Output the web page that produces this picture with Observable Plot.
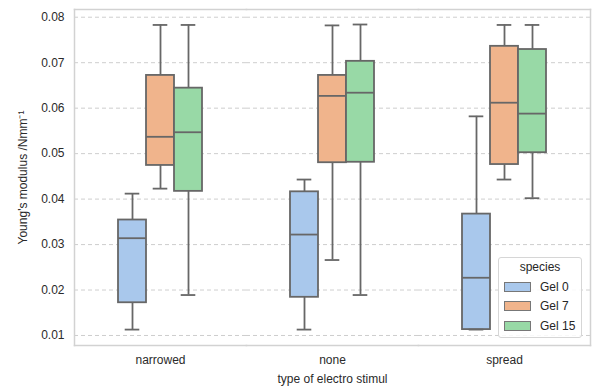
<!DOCTYPE html>
<html>
<head>
<meta charset="utf-8">
<script src="https://cdn.jsdelivr.net/npm/d3@7"></script>
<script src="https://cdn.jsdelivr.net/npm/@observablehq/plot@0.6"></script>
<style>
  html, body { margin: 0; padding: 0; background: #fff; }
  #wrap { position: relative; width: 594px; height: 387px; font-family: "Liberation Sans", Arial, sans-serif; }
  #legend { position: absolute; left: 498px; top: 257px; width: 84px; height: 81px; box-sizing: border-box;
    border: 1px solid #d6d6d6; border-radius: 3px; background: rgba(255,255,255,0.85);
    font-size: 12px; color: #262626; padding: 2px 0 0 4px; }
  #legend .title { text-align: center; margin: 0 0 3px 0; padding-right: 4px; }
  #legend .row { display: flex; align-items: center; height: 19.5px; }
  #legend .sw { width: 25px; height: 8px; border: 1px solid #777; margin-right: 9px; margin-left: 1px; }
</style>
</head>
<body>
<div id="wrap"></div>
<script>
const categories = ["narrowed", "none", "spread"];
const species = ["Gel 0", "Gel 7", "Gel 15"];
const colors = ["#a9c8ec", "#f0b48c", "#98d9a6"];
const yTicks = [0.01, 0.02, 0.03, 0.04, 0.05, 0.06, 0.07, 0.08];

// rows: category × species (narrowed: Gel 0, Gel 7, Gel 15; none: ...; spread: ...)
const whiskerLow  = [0.0113, 0.0423, 0.0189,  0.0113, 0.0266, 0.0189,  0.0113, 0.0443, 0.0402];
const q1          = [0.0172, 0.0474, 0.0417,  0.0184, 0.0480, 0.0481,  0.0113, 0.0476, 0.0502];
const median      = [0.0314, 0.0537, 0.0547,  0.0322, 0.0627, 0.0634,  0.0227, 0.0612, 0.0588];
const q3          = [0.0354, 0.0672, 0.0644,  0.0416, 0.0672, 0.0703,  0.0367, 0.0736, 0.0729];
const whiskerHigh = [0.0412, 0.0783, 0.0783,  0.0443, 0.0782, 0.0784,  0.0582, 0.0783, 0.0783];

const rows = [];
categories.forEach((c, i) => species.forEach((s, j) => {
  const k = i * species.length + j;
  rows.push({category: c, species: s, lo: whiskerLow[k], q1: q1[k], med: median[k], q3: q3[k], hi: whiskerHigh[k]});
}));

const stroke = "#676767";
const sw = 1.8;

const chart = Plot.plot({
  width: 594,
  height: 387,
  marginLeft: 73,
  marginRight: 3,
  marginTop: 9,
  marginBottom: 42,
  style: {fontFamily: '"Liberation Sans", Arial, sans-serif', fontSize: "12px", color: "#2a2a2a", background: "#fff"},
  fx: {domain: categories, padding: 0},
  x: {domain: species, paddingInner: 0, paddingOuter: 1.55, axis: null},
  y: {domain: [0.0078, 0.0817]},
  color: {domain: species, range: colors},
  marks: [
    Plot.gridY(yTicks, {stroke: "#c8c8c8", strokeOpacity: 1, strokeDasharray: "4,3", strokeWidth: 0.9}),
    Plot.axisY(yTicks, {tickSize: 0, tickPadding: 10, tickFormat: ".2f", fontSize: 12,
      label: "Young's modulus /Nmm⁻¹", labelAnchor: "center", labelArrow: "none", labelOffset: 56}),
    Plot.axisFx({anchor: "bottom", tickSize: 0, tickPadding: 10, fontSize: 12,
      label: "type of electro stimul", labelAnchor: "center", labelArrow: "none", labelOffset: 37}),
    Plot.ruleX(rows, {fx: "category", x: "species", y1: "lo", y2: "q1", stroke, strokeWidth: sw}),
    Plot.ruleX(rows, {fx: "category", x: "species", y1: "q3", y2: "hi", stroke, strokeWidth: sw}),
    Plot.barY(rows, {fx: "category", x: "species", y1: "q1", y2: "q3", fill: "species", stroke, strokeWidth: sw}),
    Plot.tickY(rows, {fx: "category", x: "species", y: "med", stroke, strokeWidth: sw}),
    Plot.tickY(rows, {fx: "category", x: "species", y: "lo", stroke, strokeWidth: sw, insetLeft: 6.7, insetRight: 6.7}),
    Plot.tickY(rows, {fx: "category", x: "species", y: "hi", stroke, strokeWidth: sw, insetLeft: 6.7, insetRight: 6.7}),
    Plot.frame({anchor: "top", stroke: "#d2d2d2", strokeWidth: 1.5}),
    Plot.frame({anchor: "bottom", stroke: "#d2d2d2", strokeWidth: 1.5}),
    Plot.frame({anchor: "left", facetAnchor: "left", stroke: "#d2d2d2", strokeWidth: 1.5}),
    Plot.frame({anchor: "right", facetAnchor: "right", stroke: "#d2d2d2", strokeWidth: 1.5})
  ]
});

const wrap = document.getElementById("wrap");
wrap.appendChild(chart);

const legend = document.createElement("div");
legend.id = "legend";
legend.innerHTML = `<div class="title">species</div>` +
  species.map((s, i) => `<div class="row"><div class="sw" style="background:${colors[i]}"></div><span>${s}</span></div>`).join("");
wrap.appendChild(legend);
</script>
</body>
</html>
